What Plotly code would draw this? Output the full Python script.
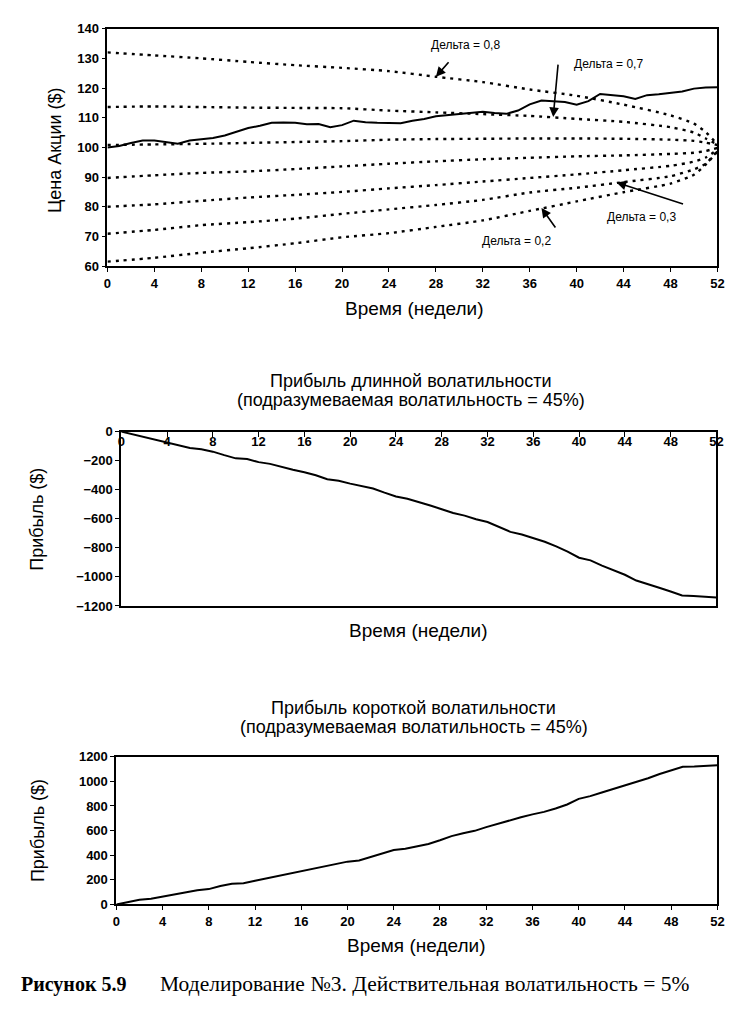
import plotly.graph_objects as go

W, H = 752, 1012

# ---------------- data ----------------
weeks = list(range(53))

stock_price = [100.0, 100.5, 101.5, 102.3, 102.3, 101.7, 101.2, 102.3, 102.8, 103.2,
               104.0, 105.3, 106.5, 107.3, 108.3, 108.4, 108.3, 107.8, 107.9, 106.8,
               107.5, 109.0, 108.5, 108.3, 108.2, 108.1, 109.0, 109.6, 110.5, 110.9,
               111.2, 111.6, 112.0, 111.6, 111.3, 112.4, 114.5, 115.8, 115.6, 115.3,
               114.4, 115.6, 118.0, 117.7, 117.2, 116.3, 117.6, 117.9, 118.3, 118.8,
               119.8, 120.2, 120.3]

delta_weeks = [0, 4, 8, 12, 16, 20, 24, 28, 32, 36, 40, 44, 48, 50, 51, 52]
delta_lines = {
    "d1": [132.0, 131.0, 130.0, 128.8, 127.7, 126.8, 125.7, 123.8, 122.0, 119.5, 117.4, 114.4, 110.8, 108.0, 105.2, 101.0],
    "d2": [113.6, 113.8, 113.6, 113.4, 113.3, 113.2, 112.4, 111.8, 111.2, 110.6, 109.6, 108.6, 106.8, 105.0, 103.0, 101.0],
    "d3": [100.8, 101.0, 101.2, 101.5, 101.8, 102.1, 102.6, 102.8, 102.9, 103.0, 103.0, 102.9, 102.6, 102.2, 101.6, 100.8],
    "d4": [89.7, 90.6, 91.4, 91.9, 92.7, 93.6, 94.5, 95.3, 96.0, 96.5, 97.0, 97.3, 97.8, 98.2, 98.8, 99.8],
    "d5": [80.0, 80.8, 82.0, 83.1, 84.0, 85.0, 86.2, 87.3, 88.5, 89.7, 90.9, 92.3, 93.8, 95.2, 96.6, 99.2],
    "d6": [70.9, 72.2, 73.8, 74.8, 76.0, 77.6, 79.1, 80.6, 82.3, 84.8, 86.4, 88.3, 90.3, 92.6, 94.5, 98.8],
    "d7": [61.5, 62.8, 64.5, 66.0, 67.7, 69.7, 71.1, 73.2, 75.4, 78.6, 81.8, 84.9, 87.8, 90.8, 94.2, 98.6],
}

long_vol_pnl = [0, -18, -36, -54, -72, -95, -113, -122, -138, -162,
                -184, -189, -210, -222, -244, -262, -280, -300, -328, -338,
                -358, -375, -392, -420, -446, -462, -484, -509, -534, -560,
                -578, -603, -622, -655, -690, -708, -734, -758, -790, -826,
                -868, -886, -922, -952, -985, -1025, -1048, -1075, -1100, -1128,
                -1131, -1136, -1141]

short_vol_pnl = [0, 20, 38, 46, 62, 82, 100, 115, 125, 150,
                 168, 172, 192, 212, 232, 252, 268, 288, 312, 332,
                 348, 358, 385, 412, 442, 452, 470, 492, 522, 555,
                 578, 598, 628, 655, 685, 708, 732, 752, 780, 812,
                 858, 880, 910, 938, 965, 995, 1025, 1060, 1090, 1118,
                 1120, 1128, 1130]

x_ticks = list(range(0, 53, 4))

# ---------------- helpers ----------------
def px(x):
    return x / W

def py(y):
    return 1 - y / H

FONT = "Liberation Sans"
tickfont = dict(family=FONT, size=13, color="black", weight="bold")

fig = go.Figure()

# chart 1
for name, vals in delta_lines.items():
    fig.add_trace(go.Scatter(x=delta_weeks, y=vals, mode="lines", xaxis="x", yaxis="y",
                             line=dict(color="black", width=2.4, dash="3px,5px", shape="spline", smoothing=0.6),
                             showlegend=False, hoverinfo="skip"))
fig.add_trace(go.Scatter(x=weeks, y=stock_price, mode="lines", xaxis="x", yaxis="y",
                         line=dict(color="black", width=2), showlegend=False))

# chart 2
fig.add_trace(go.Scatter(x=weeks, y=long_vol_pnl, mode="lines", xaxis="x2", yaxis="y2",
                         line=dict(color="black", width=2), showlegend=False))
# chart 3
fig.add_trace(go.Scatter(x=weeks, y=short_vol_pnl, mode="lines", xaxis="x3", yaxis="y3",
                         line=dict(color="black", width=2), showlegend=False))

axis_common = dict(showgrid=False, zeroline=False, showline=True, linecolor="black",
                   linewidth=1.8, mirror=True, tickcolor="black", tickfont=tickfont,
                   ticklabeloverflow="allow")

fig.update_layout(
    width=W, height=H,
    margin=dict(l=0, r=0, t=0, b=0),
    paper_bgcolor="white", plot_bgcolor="white",
    xaxis=dict(domain=[px(105), px(724)], range=[0, 52], tickvals=x_ticks, anchor="y",
               ticks="outside", ticklen=4, **axis_common),
    yaxis=dict(domain=[py(263), py(22)], range=[60, 140], dtick=10, anchor="x",
               ticks="outside", ticklen=4, **axis_common),
    xaxis2=dict(domain=[px(119), px(723)], range=[0, 52], tickvals=x_ticks, anchor="y2",
                side="top", ticks="inside", ticklen=5, ticklabelposition="inside", **axis_common),
    yaxis2=dict(domain=[py(608), py(431)], range=[-1200, 0], dtick=200, anchor="x2",
                ticks="outside", ticklen=4, **axis_common),
    xaxis3=dict(domain=[px(114), px(724)], range=[0, 52], tickvals=x_ticks, anchor="y3",
                ticks="outside", ticklen=4, **axis_common),
    yaxis3=dict(domain=[py(911), py(761)], range=[0, 1200], dtick=200, anchor="x3",
                ticks="outside", ticklen=4, **axis_common),
)

ann = []
def text_ann(x, y, text, size=18, family=FONT, xanchor="center", textangle=0, weight="normal"):
    ann.append(dict(x=px(x), y=py(y), xref="paper", yref="paper", text=text, showarrow=False,
                    xanchor=xanchor, yanchor="middle", textangle=textangle,
                    font=dict(family=family, size=size, color="black", weight=weight)))

# axis titles
text_ann(52, 145, "Цена Акции ($)", textangle=-90)
text_ann(416, 306, "Время (недели)", size=19)
text_ann(34, 520, "Прибыль ($)", textangle=-90)
text_ann(420, 633, "Время (недели)", size=19)
text_ann(34, 836, "Прибыль ($)", textangle=-90)
text_ann(418, 953, "Время (недели)", size=19)

# chart titles
text_ann(413, 380, "Прибыль длинной волатильности")
text_ann(413, 399, "(подразумеваемая волатильность = 45%)")
text_ann(416, 712, "Прибыль короткой волатильности")
text_ann(416, 731, "(подразумеваемая волатильность = 45%)")

# caption
text_ann(15, 992, "Рисунок 5.9", size=20, family="Liberation Serif", xanchor="left", weight="bold")
text_ann(156, 992, "Моделирование №3. Действительная волатильность = 5%", size=21.5,
         family="Liberation Serif", xanchor="left")

# delta labels (data coords)
def data_text(x, y, text):
    ann.append(dict(x=x, y=y, xref="x", yref="y", text=text, showarrow=False,
                    font=dict(family=FONT, size=12, color="black")))

def data_arrow(x, y, ax, ay):
    ann.append(dict(x=x, y=y, xref="x", yref="y", text="", showarrow=True, ax=ax, ay=ay,
                    arrowhead=2, arrowsize=1.2, arrowwidth=1.6, arrowcolor="black"))

data_text(30.5, 134.4, "Дельта = 0,8")
data_arrow(28.0, 123.8, 14, -16)
data_text(42.7, 128.0, "Дельта = 0,7")
data_arrow(38.0, 110.2, 5, -54)
data_text(45.5, 76.5, "Дельта = 0,3")
data_arrow(43.4, 88.2, 68, 22)
data_text(34.9, 68.6, "Дельта = 0,2")
data_arrow(37.0, 79.6, 15, 21)

fig.update_layout(annotations=ann)

fig.write_html("out.html", config={"displayModeBar": False},
               post_script="document.body.style.margin='0';document.body.style.overflow='hidden';")
